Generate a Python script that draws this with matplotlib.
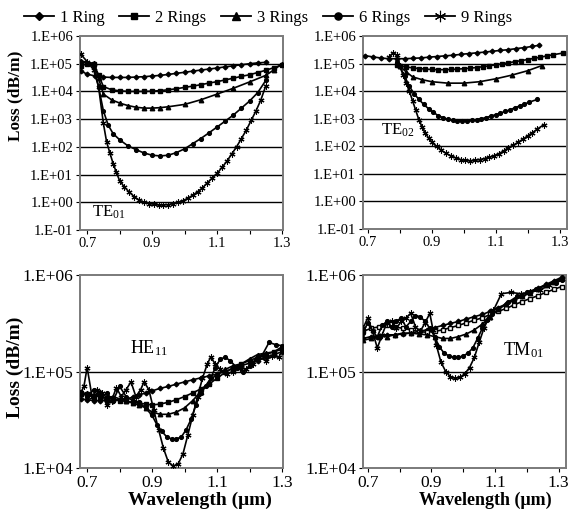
import numpy as np
import matplotlib
matplotlib.use("Agg")
import matplotlib.pyplot as plt
from matplotlib.lines import Line2D

plt.rcParams['font.family'] = ['Liberation Serif', 'DejaVu Serif']
plt.rcParams['mathtext.fontset'] = 'custom'
plt.rcParams['mathtext.rm'] = 'Liberation Serif'
plt.rcParams['mathtext.it'] = 'Liberation Serif:italic'

series_names = ["1 Ring", "2 Rings", "3 Rings", "6 Rings", "9 Rings"]

# ---------------- TE01 ----------------
te01_x1 = [0.68, 0.70, 0.725, 0.75, 0.775, 0.80, 0.825, 0.85, 0.875, 0.90, 0.925, 0.95, 0.975, 1.00,
           1.025, 1.05, 1.075, 1.10, 1.125, 1.15, 1.175, 1.20, 1.225, 1.25]
te01_y1 = [5.5e4, 4.2e4, 3.6e4, 3.3e4, 3.2e4, 3.2e4, 3.2e4, 3.3e4, 3.4e4, 3.6e4, 3.8e4, 4.1e4, 4.5e4, 4.9e4,
           5.4e4, 5.9e4, 6.4e4, 7e4, 7.7e4, 8.4e4, 9.2e4, 1.0e5, 1.07e5, 1.12e5]
te01_x2 = [0.68, 0.70, 0.72, 0.735, 0.75, 0.775, 0.80, 0.825, 0.85, 0.875, 0.90, 0.925, 0.95, 0.975, 1.00,
           1.025, 1.05, 1.075, 1.10, 1.125, 1.15, 1.175, 1.20, 1.225, 1.25, 1.275, 1.30]
te01_y2 = [8.5e4, 1.0e5, 1.0e5, 4e4, 1.5e4, 1.15e4, 1.05e4, 1.0e4, 1.0e4, 1.0e4, 1.02e4, 1.07e4, 1.15e4, 1.25e4, 1.4e4,
           1.55e4, 1.75e4, 2.0e4, 2.25e4, 2.6e4, 3.0e4, 3.5e4, 4.0e4, 4.8e4, 5.8e4, 7.2e4, 9.0e4]
te01_x3 = [0.68, 0.70, 0.72, 0.735, 0.75, 0.775, 0.80, 0.825, 0.85, 0.875, 0.90, 0.925, 0.95, 1.00,
           1.05, 1.10, 1.15, 1.20, 1.25, 1.275, 1.30]
te01_y3 = [1.3e5, 1.1e5, 1.05e5, 3e4, 8e3, 5e3, 3.8e3, 3.1e3, 2.7e3, 2.5e3, 2.5e3, 2.6e3, 2.8e3, 3.4e3,
           5e3, 8e3, 1.3e4, 2.2e4, 3.8e4, 6e4, 1.0e5]
te01_x6 = [0.68, 0.70, 0.72, 0.735, 0.75, 0.765, 0.78, 0.80, 0.825, 0.85, 0.875, 0.90, 0.925, 0.95, 0.975,
           1.00, 1.025, 1.05, 1.075, 1.10, 1.125, 1.15, 1.175, 1.20, 1.225, 1.25]
te01_y6 = [1.2e5, 1.1e5, 8e4, 1.5e4, 2e3, 6e2, 3e2, 1.8e2, 1.1e2, 80, 60, 50, 47, 50, 62,
           85, 130, 200, 320, 520, 850, 1.4e3, 2.5e3, 4.5e3, 9e3, 2.5e4]
te01_x9 = [0.68, 0.70, 0.72, 0.735, 0.75, 0.76, 0.77, 0.78, 0.79, 0.80, 0.815, 0.83, 0.845, 0.86, 0.875,
           0.89, 0.905, 0.92, 0.935, 0.95, 0.965, 0.98, 0.995, 1.01, 1.025, 1.04, 1.055, 1.07, 1.085,
           1.10, 1.115, 1.13, 1.145, 1.16, 1.175, 1.19, 1.205, 1.22, 1.235, 1.25]
te01_y9 = [2.2e5, 1.2e5, 6e4, 1.5e4, 7e2, 1.5e2, 60, 25, 12, 6, 3.5, 2.3, 1.6, 1.2, 1.0,
           0.9, 0.85, 0.8, 0.8, 0.82, 0.9, 1.0, 1.15, 1.4, 1.8, 2.4, 3.3, 5, 7.5,
           11, 18, 30, 55, 1e2, 2e2, 4e2, 9e2, 2e3, 5e3, 1.6e4]

# ---------------- TE02 ----------------
te02_x1 = [0.69, 0.715, 0.74, 0.765, 0.79, 0.815, 0.84, 0.865, 0.89, 0.915, 0.94, 0.965, 0.99, 1.015,
           1.04, 1.065, 1.09, 1.115, 1.14, 1.165, 1.19, 1.215, 1.235]
te02_y1 = [1.95e5, 1.75e5, 1.6e5, 1.5e5, 1.5e5, 1.5e5, 1.55e5, 1.6e5, 1.7e5, 1.8e5, 1.9e5, 2.0e5, 2.15e5, 2.3e5,
           2.45e5, 2.6e5, 2.8e5, 3.0e5, 3.2e5, 3.5e5, 3.8e5, 4.2e5, 4.6e5]
te02_x2 = [0.79, 0.80, 0.82, 0.84, 0.86, 0.88, 0.90, 0.92, 0.94, 0.96, 0.98, 1.00, 1.02, 1.04, 1.06, 1.08,
           1.10, 1.12, 1.14, 1.16, 1.18, 1.20, 1.22, 1.24, 1.26, 1.28, 1.31]
te02_y2 = [9e4, 8.5e4, 7.5e4, 7e4, 6.6e4, 6.3e4, 6.1e4, 6e4, 6e4, 6.1e4, 6.3e4, 6.5e4, 6.8e4, 7.2e4, 7.7e4, 8.3e4,
           9e4, 9.8e4, 1.07e5, 1.17e5, 1.28e5, 1.4e5, 1.55e5, 1.7e5, 1.9e5, 2.1e5, 2.4e5]
te02_x3 = [0.80, 0.82, 0.84, 0.87, 0.90, 0.95, 1.00, 1.05, 1.10, 1.15, 1.20, 1.245]
te02_y3 = [8e4, 5e4, 3.3e4, 2.6e4, 2.2e4, 1.95e4, 1.95e4, 2.2e4, 2.8e4, 3.8e4, 5.5e4, 8.5e4]
te02_x6 = [0.79, 0.80, 0.815, 0.83, 0.845, 0.86, 0.875, 0.89, 0.905, 0.92, 0.935, 0.95, 0.965, 0.98, 0.995,
           1.01, 1.025, 1.04, 1.055, 1.07, 1.085, 1.10, 1.115, 1.13, 1.145, 1.16, 1.175, 1.19, 1.205, 1.23]
te02_y6 = [1.1e5, 8e4, 3.5e4, 1.5e4, 8e3, 5e3, 3.3e3, 2.3e3, 1.7e3, 1.3e3, 1.1e3, 9.5e2, 8.8e2, 8.5e2, 8.5e2,
           8.5e2, 8.8e2, 9.3e2, 1e3, 1.1e3, 1.25e3, 1.4e3, 1.6e3, 1.85e3, 2.1e3, 2.5e3, 2.9e3, 3.4e3, 4e3, 5e3]
te02_x9 = [0.765, 0.78, 0.79, 0.80, 0.81, 0.82, 0.83, 0.84, 0.85, 0.86, 0.87, 0.88, 0.89, 0.90, 0.915, 0.93,
           0.945, 0.96, 0.975, 0.99, 1.005, 1.02, 1.035, 1.05, 1.065, 1.08, 1.095, 1.11, 1.125, 1.14,
           1.155, 1.17, 1.185, 1.20, 1.215, 1.23, 1.25]
te02_y9 = [1.7e5, 2.5e5, 2.0e5, 8e4, 4e4, 2e4, 1e4, 4.5e3, 2e3, 9e2, 5e2, 3e2, 2e2, 1.4e2, 1e2, 72,
           55, 45, 38, 33, 31, 30, 31, 33, 36, 40, 46, 54, 68, 90,
           110, 140, 180, 240, 310, 420, 600]

# ---------------- HE11 ----------------
he11_x = [0.68, 0.70, 0.72, 0.74, 0.76, 0.78, 0.80, 0.82, 0.84, 0.86, 0.88, 0.90, 0.925, 0.95, 0.975, 1.00,
          1.025, 1.05, 1.075, 1.10, 1.125, 1.15, 1.175, 1.20, 1.225, 1.25, 1.275, 1.30]
he11_y1 = [5.2e4, 5.1e4, 5e4, 5e4, 5e4, 5e4, 5.1e4, 5.2e4, 5.4e4, 5.7e4, 6e4, 6.3e4, 6.7e4, 7e4, 7.4e4, 7.8e4,
           8.2e4, 8.6e4, 9e4, 9.4e4, 1.0e5, 1.07e5, 1.15e5, 1.22e5, 1.3e5, 1.4e5, 1.5e5, 1.6e5]
he11_y2 = [6e4, 5.8e4, 5.6e4, 5.5e4, 5.3e4, 5.2e4, 5e4, 4.9e4, 4.8e4, 4.7e4, 4.6e4, 4.5e4, 4.6e4, 4.8e4, 5.1e4, 5.5e4,
           6e4, 6.6e4, 7.4e4, 8.5e4, 9.8e4, 1.1e5, 1.2e5, 1.3e5, 1.4e5, 1.5e5, 1.6e5, 1.7e5]
he11_y3 = [5.8e4, 6e4, 5.5e4, 6.2e4, 5.4e4, 5.5e4, 5.2e4, 5e4, 4.7e4, 4.5e4, 4.2e4, 3.8e4, 3.6e4, 3.6e4, 3.8e4, 4.2e4,
           5e4, 6.2e4, 7.8e4, 9.5e4, 1.05e5, 1.15e5, 1.2e5, 1.35e5, 1.5e5, 1.55e5, 1.6e5, 1.8e5]
he11_x6 = [0.68, 0.70, 0.72, 0.74, 0.76, 0.78, 0.80, 0.82, 0.84, 0.86, 0.88, 0.90, 0.915, 0.93, 0.945, 0.96,
           0.975, 0.99, 1.005, 1.02, 1.035, 1.05, 1.065, 1.08, 1.095, 1.11, 1.125, 1.14, 1.16, 1.18, 1.20,
           1.22, 1.24, 1.26, 1.28, 1.30]
he11_y6 = [6.2e4, 5.5e4, 6.5e4, 5.2e4, 6e4, 5e4, 7e4, 5.5e4, 5e4, 4.8e4, 4.2e4, 3.5e4, 2.8e4, 2.4e4, 2.1e4, 2e4,
           2e4, 2.1e4, 2.5e4, 3.2e4, 4.5e4, 6e4, 7e4, 8.5e4, 1.1e5, 1.35e5, 1.4e5, 1.3e5, 1.1e5, 1.0e5, 1.15e5,
           1.35e5, 1.5e5, 2e5, 1.9e5, 1.85e5]
he11_x9 = [0.68, 0.69, 0.70, 0.715, 0.73, 0.745, 0.76, 0.775, 0.79, 0.805, 0.82, 0.835, 0.85, 0.865, 0.875,
           0.89, 0.905, 0.92, 0.935, 0.95, 0.965, 0.98, 0.995, 1.01, 1.025, 1.04, 1.055, 1.07, 1.08, 1.095,
           1.11, 1.13, 1.15, 1.17, 1.19, 1.21, 1.23, 1.25, 1.27, 1.29, 1.30]
he11_y9 = [6e4, 7e4, 1.1e5, 5.5e4, 6.5e4, 6e4, 4.5e4, 5e4, 6.8e4, 5.5e4, 6.5e4, 7.8e4, 5.5e4, 6.5e4, 7.8e4,
           6.5e4, 4e4, 2.5e4, 1.6e4, 1.15e4, 1.05e4, 1.1e4, 1.4e4, 2.2e4, 3.5e4, 5.5e4, 8.5e4, 1.2e5, 1.4e5, 1.2e5,
           1.05e5, 9.5e4, 1.0e5, 1.1e5, 1.05e5, 1.2e5, 1.4e5, 1.3e5, 1.45e5, 1.4e5, 1.65e5]

# ---------------- TM01 ----------------
tm01_x = [0.685, 0.71, 0.735, 0.76, 0.785, 0.81, 0.835, 0.86, 0.885, 0.91, 0.935, 0.96, 0.985, 1.01, 1.035,
          1.06, 1.085, 1.11, 1.135, 1.16, 1.185, 1.21, 1.235, 1.26, 1.285, 1.31]
tm01_y1 = [2.2e5, 2.3e5, 2.35e5, 2.4e5, 2.4e5, 2.45e5, 2.5e5, 2.6e5, 2.7e5, 2.85e5, 3.0e5, 3.15e5, 3.3e5, 3.5e5, 3.7e5,
           3.9e5, 4.2e5, 4.6e5, 5.0e5, 5.5e5, 6.0e5, 6.6e5, 7.3e5, 8.0e5, 8.7e5, 9.5e5]
tm01_y2 = [2.6e5, 2.8e5, 2.9e5, 3e5, 2.9e5, 2.8e5, 2.7e5, 2.6e5, 2.55e5, 2.6e5, 2.7e5, 2.85e5, 3.0e5, 3.2e5, 3.4e5,
           3.6e5, 3.9e5, 4.2e5, 4.5e5, 4.9e5, 5.3e5, 5.7e5, 6.1e5, 6.6e5, 7.1e5, 7.6e5]
tm01_y3 = [2.1e5, 2.2e5, 2.3e5, 2.3e5, 2.4e5, 2.5e5, 2.5e5, 2.45e5, 2.4e5, 2.3e5, 2.2e5, 2.2e5, 2.3e5, 2.45e5, 2.7e5,
           3.1e5, 3.7e5, 4.4e5, 5.0e5, 5.5e5, 6.0e5, 6.5e5, 7.2e5, 7.9e5, 8.5e5, 9.2e5]
tm01_x6 = [0.685, 0.70, 0.715, 0.73, 0.745, 0.76, 0.775, 0.79, 0.805, 0.82, 0.835, 0.85, 0.865, 0.88, 0.895,
           0.91, 0.925, 0.94, 0.955, 0.97, 0.985, 1.00, 1.015, 1.03, 1.045, 1.06, 1.075, 1.09, 1.11, 1.14,
           1.17, 1.20, 1.23, 1.26, 1.29, 1.31]
tm01_y6 = [2.5e5, 3.2e5, 2.6e5, 2.3e5, 3e5, 3.3e5, 2.9e5, 3.3e5, 3.6e5, 2.9e5, 3.3e5, 3.8e5, 3.7e5, 3.3e5, 2.8e5,
           2.3e5, 1.8e5, 1.55e5, 1.45e5, 1.4e5, 1.4e5, 1.45e5, 1.55e5, 1.75e5, 2.2e5, 2.8e5, 3.4e5, 3.9e5, 4.4e5, 5.2e5,
           6e5, 6.6e5, 7.2e5, 7.8e5, 8.3e5, 8.8e5]
tm01_x9 = [0.685, 0.70, 0.715, 0.73, 0.745, 0.76, 0.775, 0.79, 0.805, 0.82, 0.835, 0.85, 0.865, 0.88, 0.895,
           0.905, 0.915, 0.93, 0.945, 0.96, 0.975, 0.99, 1.005, 1.02, 1.035, 1.05, 1.065, 1.08, 1.095, 1.12,
           1.15, 1.18, 1.21, 1.24, 1.27, 1.31]
tm01_y9 = [2.8e5, 3.6e5, 2.6e5, 1.75e5, 2.4e5, 3.2e5, 3.3e5, 2.8e5, 3.3e5, 3.6e5, 4e5, 2.9e5, 2.6e5, 3.2e5, 4e5,
           2.7e5, 1.9e5, 1.25e5, 1.0e5, 8.8e4, 8.5e4, 8.7e4, 9.5e4, 1.1e5, 1.4e5, 2.0e5, 2.8e5, 3.6e5, 4.3e5, 6.4e5,
           6.6e5, 6.4e5, 6.6e5, 7.0e5, 7.8e5, 9e5]

x_ticks = [0.7, 0.9, 1.1, 1.3]
x_minor = [0.8, 1.0, 1.2]

ASTER = (6, 2, 0)
styles = [dict(marker='D', ms=2.4),
          dict(marker='s', ms=2.5),
          dict(marker='^', ms=3.2),
          dict(marker='o', ms=2.7),
          dict(marker=ASTER, ms=4.3, mew=0.8)]

fig = plt.figure(figsize=(5.69, 5.20), dpi=100)

W, H = 569.0, 520.0
def ax_at(l, r, t, b):
    return fig.add_axes([l / W, 1 - b / H, (r - l) / W, (b - t) / H])

ax_tl = ax_at(80, 283, 36, 230)
ax_tr = ax_at(363, 567, 36, 229)
ax_bl = ax_at(80, 283, 275, 468)
ax_br = ax_at(363, 566, 275, 468)

def draw(ax, data, ylim, yticks, ylabels, xlim, tick_fs, open2=False):
    ax.set_yscale('log')
    ax.set_ylim(*ylim)
    ax.set_xlim(*xlim)
    for yt in yticks[1:-1]:
        ax.axhline(yt, color='black', lw=1.0, zorder=1)
    for i, (xs, ys) in enumerate(data):
        st = dict(styles[i])
        kw = dict(color='black', lw=1.2, zorder=3, mfc='black', mec='black')
        if open2 and i == 1:
            kw['mfc'] = 'white'
        kw.update(st)
        ax.plot(xs, ys, **kw)
    ax.set_yticks(yticks)
    ax.set_yticklabels(ylabels, fontsize=tick_fs)
    ax.yaxis.set_minor_locator(matplotlib.ticker.NullLocator())
    ax.set_xticks(x_ticks)
    ax.set_xticklabels([f"{v:.1f}" for v in x_ticks], fontsize=tick_fs)
    ax.set_xticks(x_minor, minor=True)
    ax.tick_params(axis='both', which='both', direction='out', length=3, width=0.8, pad=2)
    for sp in ax.spines.values():
        sp.set_color('#7a7a7a')
        sp.set_linestyle((0, (1, 1)))
        sp.set_linewidth(1.4)

top_ticks = [1e-1, 1e0, 1e1, 1e2, 1e3, 1e4, 1e5, 1e6]
top_labels = ['1.E-01', '1.E+00', '1.E+01', '1.E+02', '1.E+03', '1.E+04', '1.E+05', '1.E+06']
bot_ticks = [1e4, 1e5, 1e6]
bot_labels = ['1.E+04', '1.E+05', '1.E+06']

draw(ax_tl, [(te01_x1, te01_y1), (te01_x2, te01_y2), (te01_x3, te01_y3), (te01_x6, te01_y6), (te01_x9, te01_y9)],
     (1e-1, 1e6), top_ticks, top_labels, (0.678, 1.303), 10.5)
draw(ax_tr, [(te02_x1, te02_y1), (te02_x2, te02_y2), (te02_x3, te02_y3), (te02_x6, te02_y6), (te02_x9, te02_y9)],
     (1e-1, 1e6), top_ticks, top_labels, (0.685, 1.323), 10.5)
draw(ax_bl, [(he11_x, he11_y1), (he11_x, he11_y2), (he11_x, he11_y3), (he11_x6, he11_y6), (he11_x9, he11_y9)],
     (1e4, 1e6), bot_ticks, bot_labels, (0.678, 1.303), 12.5)
draw(ax_br, [(tm01_x, tm01_y1), (tm01_x, tm01_y2), (tm01_x, tm01_y3), (tm01_x6, tm01_y6), (tm01_x9, tm01_y9)],
     (1e4, 1e6), bot_ticks, bot_labels, (0.685, 1.323), 12.5, open2=True)

# mode labels
ax_tl.text(0.06, 0.09, r'TE$_{01}$', transform=ax_tl.transAxes, fontsize=12, va='center', ha='left')
ax_tr.text(0.09, 0.51, r'TE$_{02}$', transform=ax_tr.transAxes, fontsize=12, va='center', ha='left')
ax_bl.text(0.245, 0.62, r'HE$_{11}$', transform=ax_bl.transAxes, fontsize=13, va='center', ha='left')
ax_br.text(0.69, 0.61, r'TM$_{01}$', transform=ax_br.transAxes, fontsize=13, va='center', ha='left')

# axis labels
fig.text(15 / W, 1 - 96 / H, 'Loss (dB/m)', rotation=90, fontsize=12.5, fontweight='bold', ha='center', va='center')
fig.text(15 / W, 1 - 367 / H, 'Loss (dB/m)', rotation=90, fontsize=14, fontweight='bold', ha='center', va='center')
fig.text(200 / W, 1 - 500 / H, 'Wavelength (\u03bcm)', fontsize=14, fontweight='bold', ha='center', va='center')
fig.text(485 / W, 1 - 500 / H, 'Wavelength (\u03bcm)', fontsize=13, fontweight='bold', ha='center', va='center')

# legend
handles = []
for i, name in enumerate(series_names):
    st = dict(styles[i])
    ms = st.pop('ms') * 1.9
    handles.append(Line2D([], [], color='black', lw=1.3, mfc='black', mec='black', ms=ms, **st))
fig.legend(handles, series_names, loc='upper center', bbox_to_anchor=(268 / W, 1.01), ncol=5,
           frameon=False, fontsize=12, handlelength=1.8, handletextpad=0.35, columnspacing=0.9)

fig.savefig('out.png', dpi=100)
